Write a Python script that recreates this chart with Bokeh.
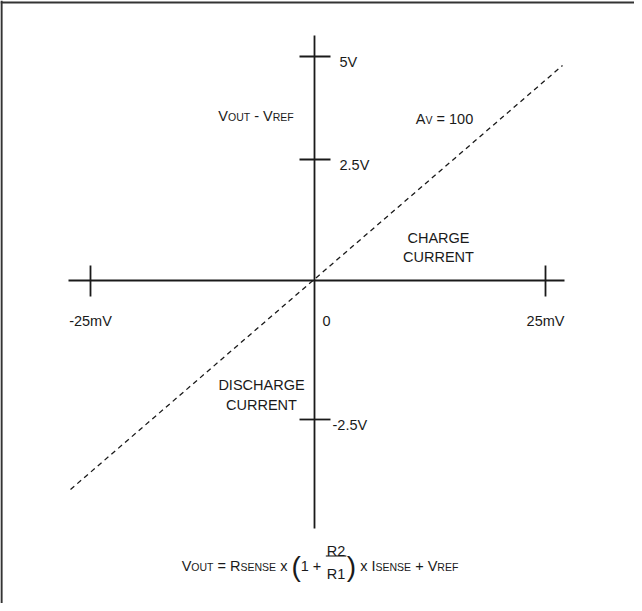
from bokeh.plotting import figure
from bokeh.models import Range1d, ColumnDataSource
from bokeh.core.properties import value, field
from bokeh.embed import file_html
from bokeh.resources import INLINE

# ---------------- data (diagram units, 1 unit ~ 1 px, origin at axes crossing) -------------
x_tick_pos = [-224, 231]
x_tick_labels = ["-25mV", "25mV"]
y_tick_pos = [224, 121, -139]
y_tick_labels = ["5V", "2.5V", "-2.5V"]
x_axis_extent = [-246, 250]
y_axis_extent = [-248, 245]
# transfer line, gain A_V = 100
line_x = [-244, 248]
line_y = [-209, 215]

FONT = "Liberation Sans"
M = 14.5    # main font size
S = 10.5    # subscript size
INK = "#1a1a1a"
SP = "\u00a0"  # non-collapsing space for SVG text

# Arial advance widths (per 1000 em)
W = {'V': 667, 'O': 778, 'U': 722, 'T': 611, SP: 278, '-': 333, 'R': 722, 'E': 667,
     'F': 611, 'A': 667, '=': 584, 'C': 722, 'H': 722, 'G': 778, 'N': 722, 'S': 667,
     'I': 278, 'D': 722, 'x': 500, '+': 584, '(': 333, ')': 333, 'm': 833, '.': 278}


def tw(s, size):
    return sum(W.get(c, 556) for c in s) * size / 1000.0


p = figure(width=634, height=603, x_range=Range1d(-314, 320), y_range=Range1d(-323, 280),
           x_axis_type=None, y_axis_type=None, toolbar_location=None,
           output_backend="svg", min_border=0, outline_line_color=None,
           background_fill_color="white", border_fill_color="white")

# frame (top and left edges visible in the crop)
p.segment(x0=[-314, -313], y0=[278, -323], x1=[320, -313], y1=[278, 280],
          line_color="#333333", line_width=2.2)

# axes
p.segment(x0=[x_axis_extent[0], 0], y0=[0, y_axis_extent[0]],
          x1=[x_axis_extent[1], 0], y1=[0, y_axis_extent[1]],
          line_color=INK, line_width=1.8)
# ticks
p.segment(x0=x_tick_pos, y0=[15] * len(x_tick_pos), x1=x_tick_pos, y1=[-16] * len(x_tick_pos),
          line_color=INK, line_width=1.8)
p.segment(x0=[-15] * len(y_tick_pos), y0=y_tick_pos, x1=[16] * len(y_tick_pos), y1=y_tick_pos,
          line_color=INK, line_width=1.8)

# dashed transfer line
p.line(line_x, line_y, line_color=INK, line_width=1.3, line_dash="5 4")

# ---------------- texts ----------------
txt = dict(x=[], y=[], text=[], size=[], align=[])


def put(x, y, s, size=M, align="left"):
    txt['x'].append(x)
    txt['y'].append(y)
    txt['text'].append(s)
    txt['size'].append(f"{size}px")
    txt['align'].append(align)


def run(pieces, cx, base):
    total = sum(tw(t, sz) if t else wd for t, sz, dy, wd in pieces)
    x = cx - total / 2.0
    out = []
    for t, sz, dy, wd in pieces:
        if t:
            put(x, base + dy, t, sz)
            w = tw(t, sz)
        else:
            w = wd
        out.append((x, w))
        x += w
    return out


# tick labels
for xp, lab in zip(x_tick_pos, x_tick_labels):
    put(xp, -40, lab, M, "center")
put(8, -40, "0", M)
for yp, lab in zip(y_tick_pos, y_tick_labels):
    put(18 if lab.startswith("-") else 25, yp - 5, lab, M)

# V_OUT - V_REF
run([("V", M, 0, 0), ("OUT", S, -1, 0), (SP + "-" + SP + "V", M, 0, 0), ("REF", S, -1, 0)], -58.5, 165)
# A_V = 100
run([("A", M, 0, 0), ("V", S, -1, 0), (SP + "=" + SP + "100", M, 0, 0)], 130, 162)

put(124, 43, "CHARGE", M, "center")
put(124, 24, "CURRENT", M, "center")
put(-53, -104, "DISCHARGE", M, "center")
put(-53, -124, "CURRENT", M, "center")

# formula
P = 28
frac_w = tw("R2", M) + 3
base = -285
pos = run([("V", M, 0, 0), ("OUT", S, -1, 0), (SP + "=" + SP + "R", M, 0, 0), ("SENSE", S, -1, 0),
           (SP + "x" + SP, M, 0, 0), ("(", P, -1, 0), ("1" + SP + "+" + SP, M, 0, 0),
           (None, M, 0, frac_w), (")", P, -1, 0), (SP + "x" + SP + "I", M, 0, 0),
           ("SENSE", S, -1, 0), (SP + "+" + SP + "V", M, 0, 0), ("REF", S, -1, 0)], 5.5, base)
fx, fw = pos[7]
put(fx + fw / 2, -270, "R2", M, "center")
put(fx + fw / 2, -293, "R1", M, "center")
p.segment(x0=[fx + 0.5], y0=[-275.5], x1=[fx + fw - 0.5], y1=[-275.5], line_color=INK, line_width=1.1)

src = ColumnDataSource(txt)
p.text(x="x", y="y", text="text", source=src, text_font=value(FONT),
       text_font_size=field("size"), text_align=field("align"),
       text_baseline="alphabetic", text_color=INK)

open("out.html", "w").write(file_html(p, INLINE))
